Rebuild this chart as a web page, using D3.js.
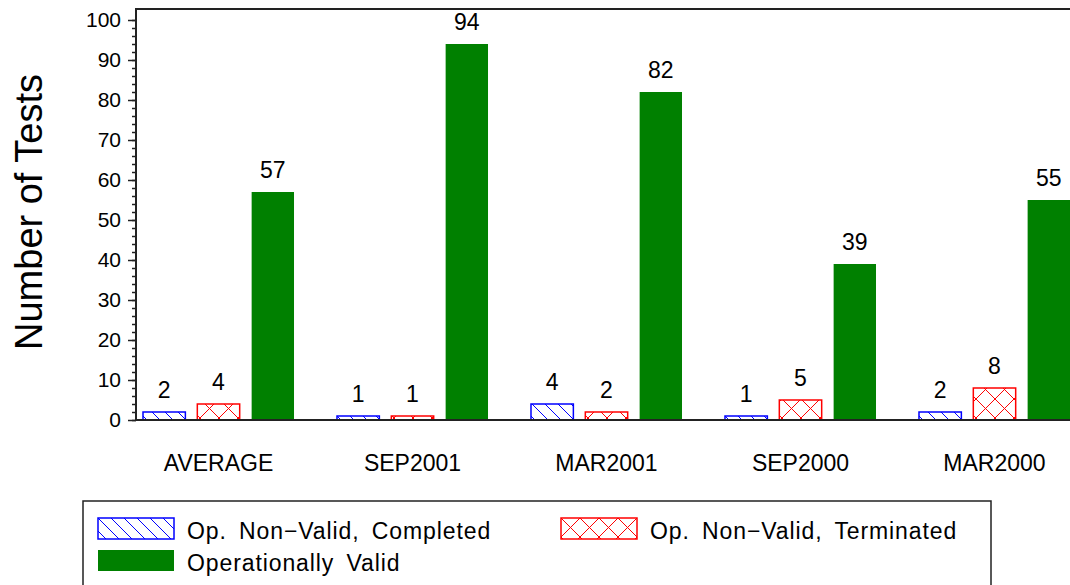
<!DOCTYPE html>
<html>
<head>
<meta charset="utf-8">
<script src="https://cdn.jsdelivr.net/npm/d3@7"></script>
<style>
  body { margin: 0; background: #fff; }
  text { font-family: "Liberation Sans", Arial, sans-serif; fill: #000; }
</style>
</head>
<body>
<div id="drawing_region"></div>
<script>
// data
var categories = ["AVERAGE", "SEP2001", "MAR2001", "SEP2000", "MAR2000"];
var seriesNames = ["Op. Non\u2212Valid, Completed", "Op. Non\u2212Valid, Terminated", "Operationally Valid"];
var completed = [2, 1, 4, 1, 2];
var terminated = [4, 1, 2, 5, 8];
var valid = [57, 94, 82, 39, 55];
var yTicks = [0, 10, 20, 30, 40, 50, 60, 70, 80, 90, 100];

var width = 1070;
var height = 585;
var plot = { left: 136, top: 9, bottom: 420, right: 1100 };

var svg = d3.select("#drawing_region")
    .append("svg")
    .attr("width", width)
    .attr("height", height);

// fill patterns
var defs = svg.append("defs");
var hatch = defs.append("pattern")
    .attr("id", "hatch")
    .attr("patternUnits", "userSpaceOnUse")
    .attr("width", 13).attr("height", 13);
hatch.append("rect").attr("width", 13).attr("height", 13).attr("fill", "#fff");
hatch.append("path")
    .attr("d", "M0,0 L13,13 M-6.5,6.5 L6.5,19.5 M6.5,-6.5 L19.5,6.5")
    .attr("stroke", "#0000ff").attr("stroke-width", 1);

var cross = defs.append("pattern")
    .attr("id", "cross")
    .attr("patternUnits", "userSpaceOnUse")
    .attr("width", 19).attr("height", 19);
cross.append("rect").attr("width", 19).attr("height", 19).attr("fill", "#fff");
cross.append("path")
    .attr("d", "M0,0 L19,19 M19,0 L0,19")
    .attr("stroke", "#ff0000").attr("stroke-width", 1);

var fills = ["url(#hatch)", "url(#cross)", "#008000"];
var strokes = ["#0000ff", "#ff0000", "#008000"];

var data = categories.map(function (c, i) {
    return { cat: c, values: [completed[i], terminated[i], valid[i]] };
});

var xScale = d3.scaleBand()
    .domain(categories)
    .range([143, 1070])
    .paddingInner(0.2216)
    .paddingOuter(0);

var xSub = d3.scaleBand()
    .domain([0, 1, 2])
    .range([0, xScale.bandwidth()])
    .paddingInner(0.22);

var yScale = d3.scaleLinear()
    .domain([0, 100])
    .range([plot.bottom, 20]);

// axes
var yAxisMinor = d3.axisLeft(yScale)
    .tickValues(d3.range(0, 101, 2))
    .tickSize(4)
    .tickFormat("");
svg.append("g")
    .attr("transform", "translate(" + plot.left + ",0)")
    .call(yAxisMinor)
    .call(function (g) { g.select(".domain").remove(); })
    .selectAll("line").attr("stroke", "#222").attr("stroke-width", 1.5);

var yAxis = d3.axisLeft(yScale)
    .tickValues(yTicks)
    .tickSize(8)
    .tickPadding(7);
var yg = svg.append("g")
    .attr("transform", "translate(" + plot.left + ",0)")
    .call(yAxis);
yg.select(".domain").remove();
yg.selectAll("line").attr("stroke", "#222").attr("stroke-width", 1.5);
yg.selectAll("text")
    .attr("font-size", 21)
    .attr("font-family", "Liberation Sans, Arial, sans-serif")
    .attr("fill", "#000");

// frame
svg.append("path")
    .attr("d", "M" + plot.right + "," + plot.top + " H" + plot.left + " V" + plot.bottom + " H" + plot.right)
    .attr("fill", "none")
    .attr("stroke", "#222")
    .attr("stroke-width", 2);

// bars
var groups = svg.append("g").selectAll("g")
    .data(data)
    .enter()
    .append("g")
    .attr("transform", function (d) { return "translate(" + xScale(d.cat) + ",0)"; });

groups.selectAll("rect")
    .data(function (d) { return d.values; })
    .enter()
    .append("rect")
    .attr("x", function (d, i) { return xSub(i); })
    .attr("y", function (d) { return yScale(d); })
    .attr("width", xSub.bandwidth())
    .attr("height", function (d) { return plot.bottom - yScale(d); })
    .attr("fill", function (d, i) { return fills[i]; })
    .attr("stroke", function (d, i) { return strokes[i]; })
    .attr("stroke-width", function (d, i) { return i < 2 ? 1.5 : 0; });

groups.selectAll("text")
    .data(function (d) { return d.values; })
    .enter()
    .append("text")
    .attr("x", function (d, i) { return xSub(i) + xSub.bandwidth() / 2; })
    .attr("y", function (d) { return yScale(d) - 14; })
    .attr("text-anchor", "middle")
    .attr("font-size", 23)
    .text(function (d) { return d; });

// bottom line drawn again over bars
svg.append("line")
    .attr("x1", plot.left).attr("x2", plot.right)
    .attr("y1", plot.bottom).attr("y2", plot.bottom)
    .attr("stroke", "#222").attr("stroke-width", 2);

// category labels
svg.append("g").selectAll("text")
    .data(categories)
    .enter()
    .append("text")
    .attr("x", function (d) { return xScale(d) + xScale.bandwidth() / 2; })
    .attr("y", 471)
    .attr("text-anchor", "middle")
    .attr("font-size", 23)
    .text(function (d) { return d; });

// y title
svg.append("text")
    .attr("transform", "translate(42,212) rotate(-90)")
    .attr("text-anchor", "middle")
    .attr("font-size", 38)
    .text("Number of Tests");

// legend
svg.append("rect")
    .attr("x", 83).attr("y", 501)
    .attr("width", 908).attr("height", 120)
    .attr("fill", "none")
    .attr("stroke", "#222")
    .attr("stroke-width", 1.5);

var legendPos = [
    { x: 98, y: 518 },
    { x: 561, y: 518 },
    { x: 98, y: 550 }
];
var legend = svg.append("g").selectAll("g")
    .data(seriesNames)
    .enter()
    .append("g")
    .attr("transform", function (d, i) { return "translate(" + legendPos[i].x + "," + legendPos[i].y + ")"; });

legend.append("rect")
    .attr("width", 76).attr("height", 21)
    .attr("fill", function (d, i) { return fills[i]; })
    .attr("stroke", function (d, i) { return strokes[i]; })
    .attr("stroke-width", function (d, i) { return i < 2 ? 1.5 : 0; });

legend.append("text")
    .attr("x", 89)
    .attr("y", 21)
    .attr("font-size", 23)
    .attr("letter-spacing", 0.9)
    .attr("word-spacing", 5)
    .text(function (d) { return d; });
</script>
</body>
</html>
